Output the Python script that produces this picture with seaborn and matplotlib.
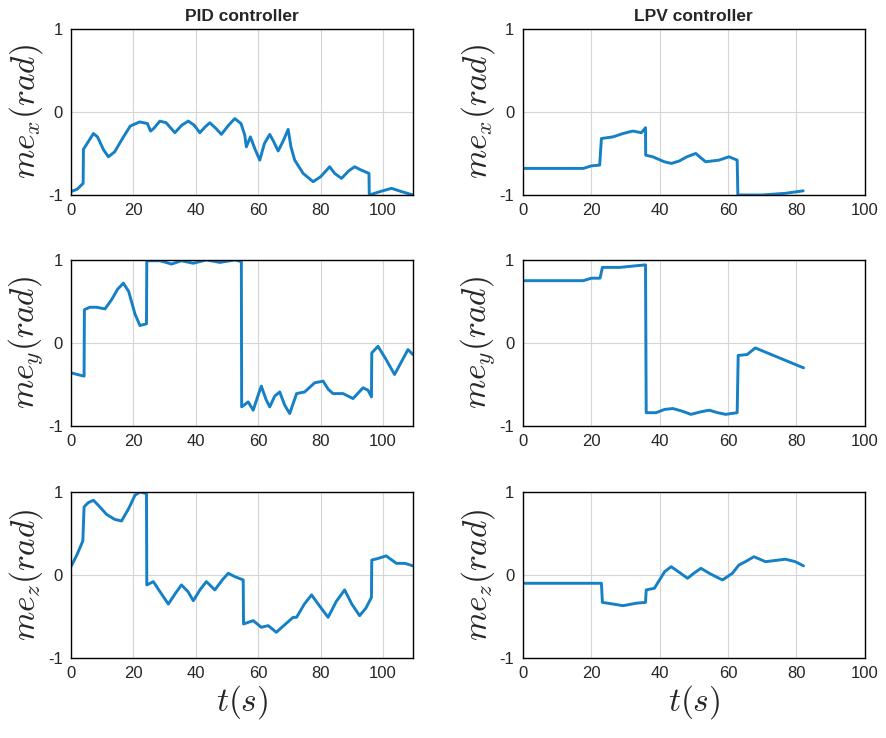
import numpy as np
import pandas as pd
import matplotlib
matplotlib.use('Agg')
import matplotlib.pyplot as plt
import seaborn as sns

# PID controller, me_x
pid_x_t = [0, 2, 3.9, 4.0, 5.5, 7.2, 8.5, 10.5, 12, 14, 16.5, 19, 22, 24.5, 25.5, 26.5, 28.5,
           30.5, 33.3, 35.5, 37.6, 39.5, 41.3, 43, 44.5, 46.5, 48.2, 50.5, 52.5, 54.5, 55.7,
           56.2, 57.5, 59, 60.5, 62, 63.7, 65, 66.4, 68, 69.6, 70.5, 71.7, 74.4, 77.6, 80,
           82.9, 84.5, 86.7, 89, 90.9, 93, 95.5, 95.6, 99, 102.7, 106, 109.6]
pid_x_v = [-0.96, -0.93, -0.86, -0.45, -0.36, -0.26, -0.30, -0.46, -0.54, -0.48, -0.32, -0.17,
           -0.12, -0.14, -0.23, -0.20, -0.11, -0.13, -0.25, -0.16, -0.11, -0.16, -0.25, -0.18,
           -0.13, -0.20, -0.27, -0.16, -0.08, -0.14, -0.28, -0.42, -0.30, -0.45, -0.58, -0.38,
           -0.27, -0.36, -0.47, -0.35, -0.21, -0.42, -0.58, -0.74, -0.84, -0.78, -0.66, -0.74,
           -0.80, -0.71, -0.66, -0.70, -0.74, -1.0, -0.96, -0.92, -0.96, -1.0]

# LPV controller, me_x
lpv_x_t = [0, 17.7, 20.0, 22.5, 23.0, 26.4, 29.3, 32.2, 34.7, 35.9, 35.95, 38.0, 41.4, 43.5,
           45.8, 48.0, 50.6, 52.0, 53.5, 57.4, 60.3, 62.7, 62.9, 70.0, 76.8, 82.0]
lpv_x_v = [-0.68, -0.68, -0.65, -0.64, -0.32, -0.30, -0.26, -0.23, -0.25, -0.19, -0.52, -0.54,
           -0.60, -0.62, -0.59, -0.54, -0.50, -0.55, -0.60, -0.58, -0.54, -0.58, -1.0, -1.0,
           -0.98, -0.95]

# PID controller, me_y
pid_y_t = [0, 4.2, 4.3, 6, 8.2, 10.9, 13, 15, 16.8, 18.5, 20.5, 22.1, 24.2, 24.3, 28.5, 30.5,
           32.2, 35.4, 39.2, 43.4, 47.7, 52.5, 54.6, 54.7, 56.8, 58.4, 59.8, 61, 62.5, 63.7,
           65.3, 66.9, 68.5, 70.1, 72.3, 74.9, 78.1, 80.8, 82.5, 84, 87.2, 90.4, 93.6, 95.2,
           96.3, 96.4, 98.4, 101, 103.7, 106, 108, 109.6]
pid_y_v = [-0.36, -0.40, 0.40, 0.43, 0.43, 0.41, 0.52, 0.65, 0.72, 0.62, 0.35, 0.21, 0.23,
           0.99, 0.99, 0.97, 0.95, 0.99, 0.96, 1.0, 0.97, 1.0, 0.98, -0.77, -0.71, -0.81, -0.65,
           -0.52, -0.68, -0.77, -0.64, -0.59, -0.75, -0.85, -0.61, -0.59, -0.48, -0.46, -0.56,
           -0.61, -0.61, -0.67, -0.54, -0.57, -0.65, -0.12, -0.04, -0.20, -0.38, -0.22, -0.08,
           -0.14]

# LPV controller, me_y
lpv_y_t = [0, 17.7, 20.1, 22.6, 23.3, 28.4, 33.2, 35.9, 36.1, 39.0, 41.5, 43.9, 46.5, 49.2,
           52.0, 54.5, 57.0, 59.3, 62.7, 63.0, 65.6, 68.0, 82.1]
lpv_y_v = [0.75, 0.75, 0.78, 0.78, 0.91, 0.91, 0.93, 0.94, -0.84, -0.84, -0.80, -0.79, -0.82,
           -0.86, -0.83, -0.81, -0.84, -0.86, -0.84, -0.15, -0.14, -0.06, -0.30]

# PID controller, me_z
pid_z_t = [0, 2, 3.8, 4.2, 5.5, 7.2, 9, 11.4, 14, 16.2, 18.5, 20.5, 22.1, 24.2, 24.3, 26.4,
           28.5, 31.2, 33.5, 35.4, 37.5, 39.2, 41.5, 43.4, 46.1, 48.5, 50.4, 52.5, 55.2, 55.3,
           58.4, 61, 63.2, 65.8, 68.5, 71.2, 72.3, 74.8, 77.1, 79.8, 82.4, 85, 87.7, 90, 92.5,
           94.5, 96.3, 96.4, 98.5, 101, 104.3, 107, 109.6]
pid_z_v = [0.10, 0.25, 0.41, 0.82, 0.87, 0.90, 0.83, 0.73, 0.67, 0.65, 0.80, 0.96, 1.0, 0.98,
           -0.12, -0.08, -0.20, -0.35, -0.22, -0.12, -0.20, -0.31, -0.17, -0.08, -0.18, -0.06,
           0.02, -0.02, -0.06, -0.59, -0.55, -0.63, -0.61, -0.69, -0.60, -0.51, -0.51, -0.35,
           -0.24, -0.38, -0.51, -0.32, -0.18, -0.35, -0.49, -0.40, -0.27, 0.18, 0.20, 0.23,
           0.14, 0.14, 0.11]

# LPV controller, me_z
lpv_z_t = [0, 23.0, 23.3, 26.4, 29.3, 33.2, 35.9, 36.1, 38.5, 40.0, 41.5, 43.4, 45.5, 48.2,
           50.0, 52.1, 55.0, 58.4, 61.3, 63.2, 65.1, 67.6, 71.0, 76.8, 79.7, 82.1]
lpv_z_v = [-0.10, -0.10, -0.33, -0.35, -0.37, -0.34, -0.33, -0.18, -0.16, -0.06, 0.04, 0.10,
           0.04, -0.04, 0.02, 0.08, 0.01, -0.06, 0.02, 0.12, 0.16, 0.22, 0.16, 0.19, 0.16, 0.11]

col_titles = ['PID controller', 'LPV controller']
row_labels = [r'$me_x(rad)$', r'$me_y(rad)$', r'$me_z(rad)$']
series = [
    [(pid_x_t, pid_x_v), (lpv_x_t, lpv_x_v)],
    [(pid_y_t, pid_y_v), (lpv_y_t, lpv_y_v)],
    [(pid_z_t, pid_z_v), (lpv_z_t, lpv_z_v)],
]
xlims = [109.6, 100]

sns.set_style('white')
plt.rcParams['font.family'] = ['Liberation Sans', 'DejaVu Sans']
plt.rcParams['mathtext.fontset'] = 'cm'
plt.rcParams['axes.unicode_minus'] = False

fig = plt.figure(figsize=(8.86, 7.38), dpi=100)
lefts = [0.0801, 0.590]
bottoms = [0.7358, 0.4228, 0.1084]
w, h = 0.386, 0.225
line_color = '#1580c6'

for r in range(3):
    for c in range(2):
        ax = fig.add_axes([lefts[c], bottoms[r], w, h])
        t, v = series[r][c]
        df = pd.DataFrame({'t': t, 'v': v})
        sns.lineplot(data=df, x='t', y='v', ax=ax, sort=False, estimator=None,
                     color=line_color, linewidth=2.1)
        ax.set_xlim(0, xlims[c])
        ax.set_ylim(-1, 1)
        ax.set_yticks([-1, 0, 1])
        ax.set_xticks([0, 20, 40, 60, 80, 100])
        ax.grid(True, color='#d5d5d5', linewidth=0.8)
        ax.tick_params(direction='in', length=3, labelsize=12, colors='#262626',
                       labelcolor='#262626', pad=6)
        for s in ax.spines.values():
            s.set_color('black')
            s.set_linewidth(1.0)
        ax.set_ylabel(row_labels[r], fontsize=24, labelpad=2)
        if r == 2:
            ax.set_xlabel(r'$t(s)$', fontsize=24, labelpad=1)
        else:
            ax.set_xlabel('')
        if r == 0:
            ax.set_title(col_titles[c], fontsize=12.5, fontweight='bold', pad=6)

fig.savefig('out.png', dpi=100)
